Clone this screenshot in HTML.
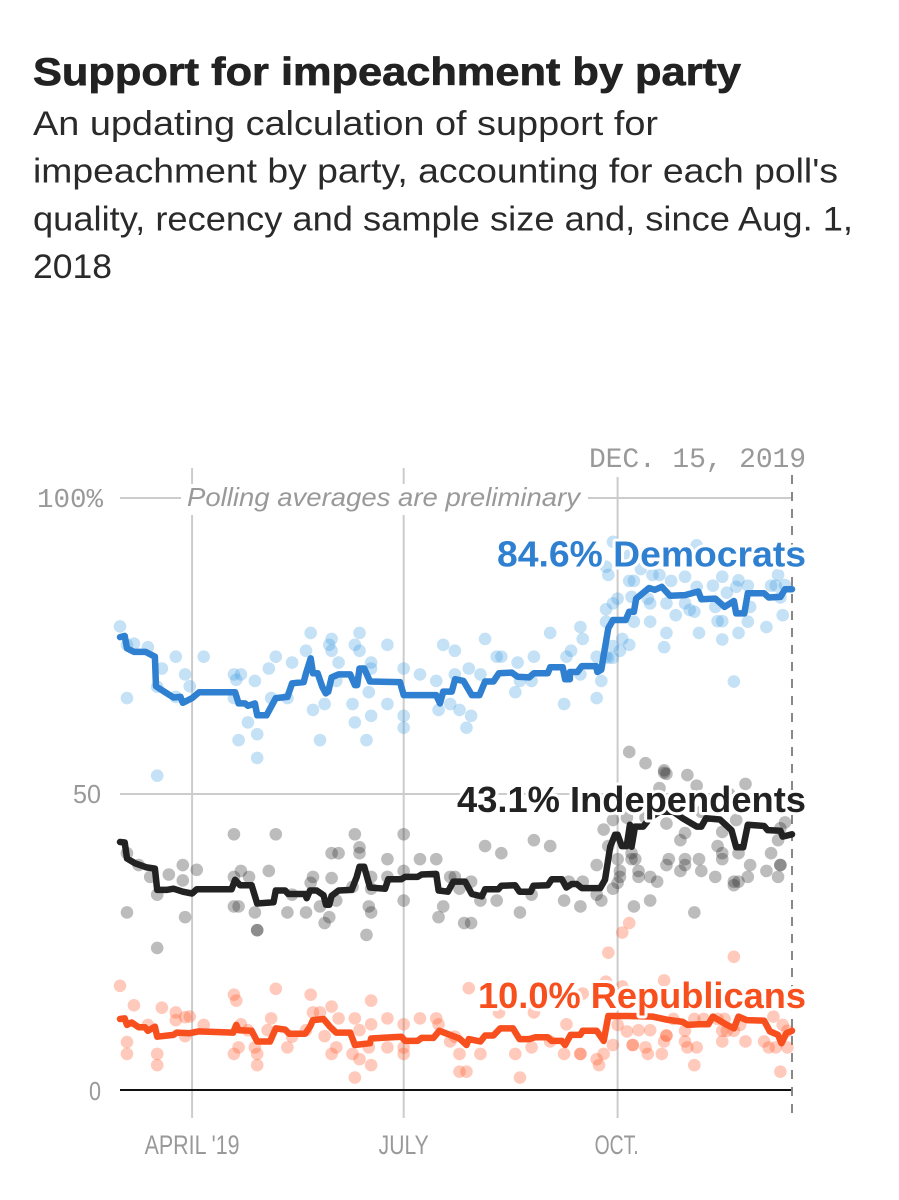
<!DOCTYPE html>
<html lang="en">
<head>
<meta charset="utf-8">
<title>Support for impeachment by party</title>
<style>
html,body{margin:0;padding:0;background:#fff;width:899px;height:1200px;overflow:hidden}
svg{display:block;font-family:"Liberation Sans",sans-serif}
.halo{paint-order:stroke;stroke:#fff;stroke-linejoin:round}
</style>
</head>
<body>
<svg id="chart" width="899" height="1200" viewBox="0 0 899 1200" xmlns="http://www.w3.org/2000/svg">
  <text x="33" y="85" font-size="39" font-weight="700" fill="#222" stroke="#222" stroke-width="0.7" textLength="708" lengthAdjust="spacingAndGlyphs">Support for impeachment by party</text>
  <g font-size="34" fill="#2a2a2a">
    <text x="33" y="135" textLength="625" lengthAdjust="spacingAndGlyphs">An updating calculation of support for</text>
    <text x="33" y="182.5" textLength="805" lengthAdjust="spacingAndGlyphs">impeachment by party, accounting for each poll's</text>
    <text x="33" y="230.5" textLength="820" lengthAdjust="spacingAndGlyphs">quality, recency and sample size and, since Aug. 1,</text>
    <text x="33" y="278" textLength="79" lengthAdjust="spacingAndGlyphs">2018</text>
  </g>
  <g id="grid"></g>
  <rect x="181" y="484" width="407" height="31" fill="#fff"></rect>
  <g id="dots"></g>
  <g id="lines"></g>
  <g id="axis-labels"></g>
  <text x="187" y="506" font-size="26" font-style="italic" fill="#999" textLength="393" lengthAdjust="spacingAndGlyphs">Polling averages are preliminary</text>
  <text class="halo" x="589" y="467" font-family="Liberation Mono, monospace" font-size="28" fill="#999" stroke-width="5" textLength="217" lengthAdjust="spacing">DEC. 15, 2019</text>
  <text class="halo" x="497" y="566.5" font-size="36" font-weight="700" fill="#2f80d0" stroke-width="6" textLength="309" lengthAdjust="spacingAndGlyphs">84.6% Democrats</text>
  <text class="halo" x="457" y="812" font-size="36" font-weight="700" fill="#222" stroke-width="6" textLength="349" lengthAdjust="spacingAndGlyphs">43.1% Independents</text>
  <text class="halo" x="478" y="1008" font-size="36" font-weight="700" fill="#f84f1f" stroke-width="6" textLength="328" lengthAdjust="spacingAndGlyphs">10.0% Republicans</text>
</svg>
<script>
const xTickDays = [31, 122, 214];
const xTickLabels = ["APRIL '19", "JULY", "OCT."];
const yTicks = [100, 50, 0];
const yTickLabels = ["100%", "50", "0"];
const lastDay = 289;

const demDots = [[0,78.3],[3,75.2],[6,75.4],[12,74.8],[18,71.2],[24,73.2],[28,70.2],[30,68.2],[16,68.1],[3,66.2],[24,66.4],[36,73.2],[16,53.1],[49,70.2],[52,70.2],[50,69.3],[49,66.2],[58,69.1],[55,62.1],[51,59.1],[59,60.1],[59,56.1],[64,71.2],[67,73.2],[74,72.2],[65,66.2],[72,66.2],[80,74.2],[82,77.2],[83,64.2],[88,65.2],[86,59.1],[90,75.2],[91,76.2],[91,74.2],[94,72.2],[93,69.1],[101,75.2],[103,77.2],[103,74.2],[108,72.2],[108,71.2],[107,67.2],[100,65.2],[101,62.1],[108,63.2],[106,59.1],[115,75.2],[115,65.2],[122,71.2],[122,63.2],[122,61.2],[129,70.2],[136,69.1],[139,75.2],[144,74.2],[144,70.2],[142,65.2],[137,64.2],[146,64.2],[151,63.2],[149,61.2],[150,71.2],[155,70.2],[157,76.2],[162,73.2],[164,73.2],[171,72.2],[178,73.2],[172,69.1],[177,69.1],[170,67.2],[185,77.2],[191,65.2],[192,73.2],[194,74.2],[198,78.2],[199,76.2],[198,70.2],[205,73.2],[207,69.1],[205,66.2],[209,73.2],[209,81.2],[209,79.1],[212,82.2],[214,83],[212,75],[216,76.2],[219,75.2],[215,74.2],[210,73],[212,73],[210,87],[212,92.6],[219,90.3],[209,88.4],[219,86],[221,86],[220,83.3],[221,79.1],[228,82.2],[228,79.1],[227,83],[224,88],[229,87],[232,87],[237,86],[243,86.7],[235,82.2],[235,77.2],[234,74.8],[239,80.2],[243,82.2],[245,81.1],[247,80.8],[249,77.2],[248,85],[255,85.2],[259,86.7],[261,84],[256,81.6],[257,79.2],[259,79.2],[259,76.1],[264,69],[266,77.2],[270,79.1],[271,81.6],[265,85],[266,86.1],[270,85.2],[278,78.2],[285,80.2],[284,83.2],[282,85.2],[280,85.2],[283,87],[286,85.3],[248,92]];

const indDots = [[3,40],[8,38],[13,36],[21,36.4],[27,38],[27,35.4],[33,37.2],[16,33],[3,30],[28,29.2],[16,24],[49,43.2],[67,43.2],[49,36],[52,37],[55.5,36],[64,37],[49,31],[51,31],[58,30],[59,27],[59,27],[72,30],[74,33],[80,30],[82,35],[83,36],[86,31],[91,35.8],[91,40],[94,40],[93,32],[90,29.2],[88,28.2],[101,43.2],[103,41],[103,40],[100,34.3],[108,36],[108,34],[107,31],[108,30],[106,26.2],[115,39],[115,36],[122,43.2],[122,37],[122,32],[129,39],[136,39],[142,36],[144,36],[139,31],[137,29.2],[146,34],[151,35.2],[148,28.2],[151,28.2],[155,32],[157,41.2],[162,32],[164,40],[172,30],[178,42.2],[177,33],[185,41.2],[191,32],[193,35.2],[198,31],[199,35.2],[205,38],[205,33],[207,32],[208,44],[212,45.6],[212,34],[210,41.2],[215,37],[215,36],[214,35],[214,39],[220,40],[220,39],[221.6,39],[223,37],[223,36],[228,36],[231,35.2],[228,32],[221,31],[235,38],[235,53.4],[244,53.2],[236,39],[241,42.2],[243,43.4],[243,39],[243,38],[241,37],[249,39],[250,37],[247,30],[248,51.4],[256,36],[257,41.2],[259,40],[259,39],[264,35.2],[264,34.6],[266,40],[266,35.2],[270,36],[271,38],[269,51.7],[278,37],[280,40],[283,42.2],[284,38],[284,38],[283,36],[286,45.2],[284,44.2],[235,45],[259,43.6],[265,45.6],[219,57.1],[226,55.2],[234,54],[234,53.6],[232,51],[218,46],[226,46],[262,50],[250,47]];

const repDots = [[0,17.6],[6,14.3],[3,8.1],[3,6.1],[18,13.9],[24,13.1],[24,11.8],[28,12.3],[30,12.4],[28,9.1],[12,11],[16,6.1],[16,4.2],[36,11],[49,16.1],[50,15.1],[67,17.1],[52,11.1],[55,10.1],[51,7.2],[49,6.1],[58,7.2],[59,6.1],[59,4.2],[65,12.1],[63.5,10.1],[72,7.2],[74,9],[82,16.1],[83,13.1],[86,13.1],[91,14.1],[94,12.1],[88,9.1],[93,7.2],[91,6.1],[80,10.1],[101,12.1],[103,10.1],[108,15.1],[108,11.1],[107,7.2],[100,6.1],[103,5.2],[108,4.2],[101,2.1],[115,12.1],[115,7.2],[122,11.1],[122,7.2],[122,6.1],[129,12.1],[136,12.1],[137,11.1],[142,8.2],[144,9],[146,6.1],[146,3.1],[149,3.1],[155,6.1],[163,13.1],[150,17.2],[170,6.1],[172,2.1],[177,7.2],[178,13.1],[185,8.2],[191,6.1],[192,11.1],[198,6.1],[198,6.1],[199,16.3],[205,5.2],[206,4.2],[208,6.1],[212,7.6],[210,23.2],[216,26.6],[219,28.2],[209,18.3],[216,17.5],[214,11],[218,9.9],[220.5,7.6],[220.5,7.6],[223,10.1],[228,10.1],[226,7.2],[227,6.1],[233,6.1],[234,8.2],[235,9.2],[235,9.2],[234,18.5],[243,8.2],[244,7.2],[248,7.2],[247,4.2],[243,10],[264,22.5],[259,8.2],[259,10],[261,10],[264,10],[266.7,11],[269,8.2],[277,8.2],[279,7.2],[282,7.2],[287,7.2],[284,3.1],[285,11],[287,10],[281,12.4],[251,12],[247,12],[257,12],[260,12],[238,12]];

const demLine = [[0,76.5],[2,76.7],[3,74.6],[6,74],[11,74],[15,73.2],[15.5,68.2],[19,67.3],[23,66.3],[26,66.4],[27,65.4],[31,66.2],[34,67.2],[49.5,67.2],[51,65.3],[53.8,65.3],[55,64.9],[58,65.3],[59,63.3],[63,63.3],[67,66.2],[72,66.4],[74,68.7],[79,68.9],[80,70.4],[82,72.9],[83,70.4],[85,70.4],[87,68.1],[88.5,67],[89.6,67.3],[91,69.7],[94,70.2],[99,70.2],[101,68.4],[102,68.4],[103,71.2],[105,71.2],[107.5,69],[120.4,68.9],[122,66.7],[136,66.7],[137.6,65.3],[139,67.3],[142.7,67.3],[144.1,69.4],[147.7,69.1],[151.3,66.7],[154.6,66.7],[157,69],[160.6,69],[163,70.4],[168.5,70.5],[171,69.8],[176,69.7],[178,70.4],[184,70.4],[185,71.4],[190.4,71.4],[191.4,69.4],[193.5,69.4],[193.5,70.6],[196.7,70.6],[198.6,71.6],[204.7,71.6],[205.3,70.6],[207,71],[210,78],[212,79.4],[217.5,79.4],[219,80.8],[221,80.8],[222,83],[227.5,84.8],[230,84.5],[233,85],[236.5,83.5],[243,83.6],[248.7,84.2],[250,82.9],[256,83],[260,81.6],[264,82.6],[265,80.5],[268.5,80.5],[270,83.9],[277,83.9],[279,83.2],[284,83.3],[286,84.6],[289,84.6]];

const indLine = [[0,41.9],[2,41.8],[3,39.1],[6.5,38.3],[11.5,37.6],[15,37.4],[16,33.8],[20,33.8],[23,34],[27,33.5],[31,33.2],[33,33.9],[48,33.9],[49.5,35.5],[51.6,34.6],[56.6,34.6],[59,31.5],[66,31.7],[67,33.7],[71,33.7],[72.4,33.1],[79.6,33.1],[80.3,32.4],[81.7,33.7],[84.6,33.7],[87.5,32.9],[88.6,31.3],[90,31.3],[91,32.8],[94,33.7],[99.6,33.8],[101.8,36],[103,37.7],[105,37.7],[107.5,34.2],[114,34],[115.4,35.6],[121,35.6],[122.6,36],[128,36],[129.7,36.4],[136,36.5],[137,33.7],[141,33.5],[143.4,35.2],[148.4,35.2],[151.3,33.1],[155.6,32.7],[157,33.9],[162.7,33.9],[164,34.5],[169.9,34.6],[171.8,33.5],[176.6,33.5],[177.8,34.5],[184,34.6],[185.7,35.6],[190,35.6],[192,34.2],[194.3,34.8],[196.4,34.8],[198.6,34.1],[206.5,34.1],[208.6,35.5],[210.8,41.1],[212.9,43.1],[214,43.1],[215.8,41.2],[217.9,41.2],[219.3,44.8],[220,41.1],[221.5,44.5],[225,44.5],[228,46],[232,47],[238,47],[242,45.9],[248,44.5],[250,44.5],[252,45.9],[258,45.7],[263,43.9],[265,41],[268,41],[270,44.8],[277,44.6],[278.5,43.9],[284,43.8],[285,42.8],[289,43.2]];

const repLine = [[0,12],[2,12.1],[3,11],[5,11.4],[8,10.6],[10.7,10.6],[12,10],[15,10.7],[16,9],[23,9.3],[24.4,9.7],[30,9.6],[33.7,9.9],[48.7,9.7],[50,11],[51,10.1],[56.6,10],[59,8.2],[64.5,8.2],[67,10.4],[71,10.2],[72.8,9.5],[79.6,9.5],[81.7,10.7],[83,11.8],[87.5,12],[90.3,10.7],[93,9.7],[99,9.7],[101,7.6],[107.5,7.9],[108,8.7],[121,9],[122.6,8.3],[128,8.3],[129.7,8.8],[134.8,8.8],[137.3,10],[142,9.3],[146,8.7],[149,7.6],[150,8.6],[155,8.2],[157,9.2],[160.6,9.2],[163.5,10.4],[169,10.4],[171.8,8.6],[176,8.6],[178.5,8.9],[184,8.9],[185.7,8.3],[190,8.3],[191.4,7.6],[193.8,9.3],[197.9,9.3],[199,10],[205,10],[208,8.3],[210,12.5],[218.7,12.5],[229,12.4],[235,11.9],[242,11.5],[244,11],[249,11.1],[253,11.1],[255,12.4],[261,11],[264,10.4],[266,12.4],[269.5,11.8],[277,11.7],[279.5,9.9],[283,9.3],[284.5,7.9],[286.6,9.6],[289,10]];

const NS = 'http://www.w3.org/2000/svg';
const xScale = d => 120 + d / lastDay * 672;
const yScale = v => 1090 - v * 5.92;

function make(parent, tag, attrs, text) {
  const el = document.createElementNS(NS, tag);
  for (const k in attrs) el.setAttribute(k, attrs[k]);
  if (text !== undefined) el.textContent = text;
  parent.appendChild(el);
  return el;
}

const grid = document.getElementById('grid');
const dotsG = document.getElementById('dots');
const linesG = document.getElementById('lines');
const labelsG = document.getElementById('axis-labels');

xTickDays.forEach((d, i) => {
  const top = d === 214 ? 477 : 468;
  const gl = make(grid, 'line', {x1: xScale(d), x2: xScale(d), y1: top, y2: 1118, stroke: '#ccc', 'stroke-width': 2});
  
  
  const widths = [95, 50, 44];
  const t = make(labelsG, 'text', {x: xScale(d) - (d === 214 ? 1 : 0), y: 1154, 'text-anchor': 'middle', 'font-size': 27, fill: '#999', textLength: widths[i], lengthAdjust: 'spacingAndGlyphs'}, xTickLabels[i]);
  
  
});

yTicks.forEach((v, i) => {
  const isZero = v === 0;
  const gl = make(grid, 'line', {x1: 120, x2: 792, y1: yScale(v), y2: yScale(v), stroke: isZero ? '#111' : '#ccc', 'stroke-width': 2});
  
  
  const mono = i === 0;
  const t = make(labelsG, 'text', {x: mono ? 103 : 101, y: yScale(v) + (isZero ? 10 : 9), 'text-anchor': 'end', 'font-size': mono ? 27 : 26, fill: '#999', 'font-family': mono ? 'Liberation Mono, monospace' : 'Liberation Sans, sans-serif', textLength: [66, 28, 12][i], lengthAdjust: 'spacingAndGlyphs'}, yTickLabels[i]);
  
  
});

const today = make(grid, 'line', {x1: xScale(lastDay), x2: xScale(lastDay), y1: 475, y2: 1118, stroke: '#888', 'stroke-width': 2, 'stroke-dasharray': '9 8'});



function drawDots(rows, color, name) {
  rows.forEach(r => {
    const c = make(dotsG, 'circle', {cx: xScale(r[0]), cy: yScale(r[1]), r: 6.3, fill: color, 'fill-opacity': 0.3});
    
    
  });
}
drawDots(demDots, '#3a9ae0', 'democrat-poll-dot');
drawDots(indDots, '#222222', 'independent-poll-dot');
drawDots(repDots, '#ff4f1f', 'republican-poll-dot');

function drawLine(rows, color, name) {
  const pts = rows.map(r => xScale(r[0]).toFixed(1) + ',' + yScale(r[1]).toFixed(1)).join(' ');
  const l = make(linesG, 'polyline', {points: pts, fill: 'none', stroke: color, 'stroke-width': 6.5, 'stroke-linejoin': 'round', 'stroke-linecap': 'round'});
  
  
}
drawLine(demLine, '#2f80d0', 'democrats-average-line');
drawLine(indLine, '#222222', 'independents-average-line');
drawLine(repLine, '#f84f1f', 'republicans-average-line');
</script>
</body>
</html>
